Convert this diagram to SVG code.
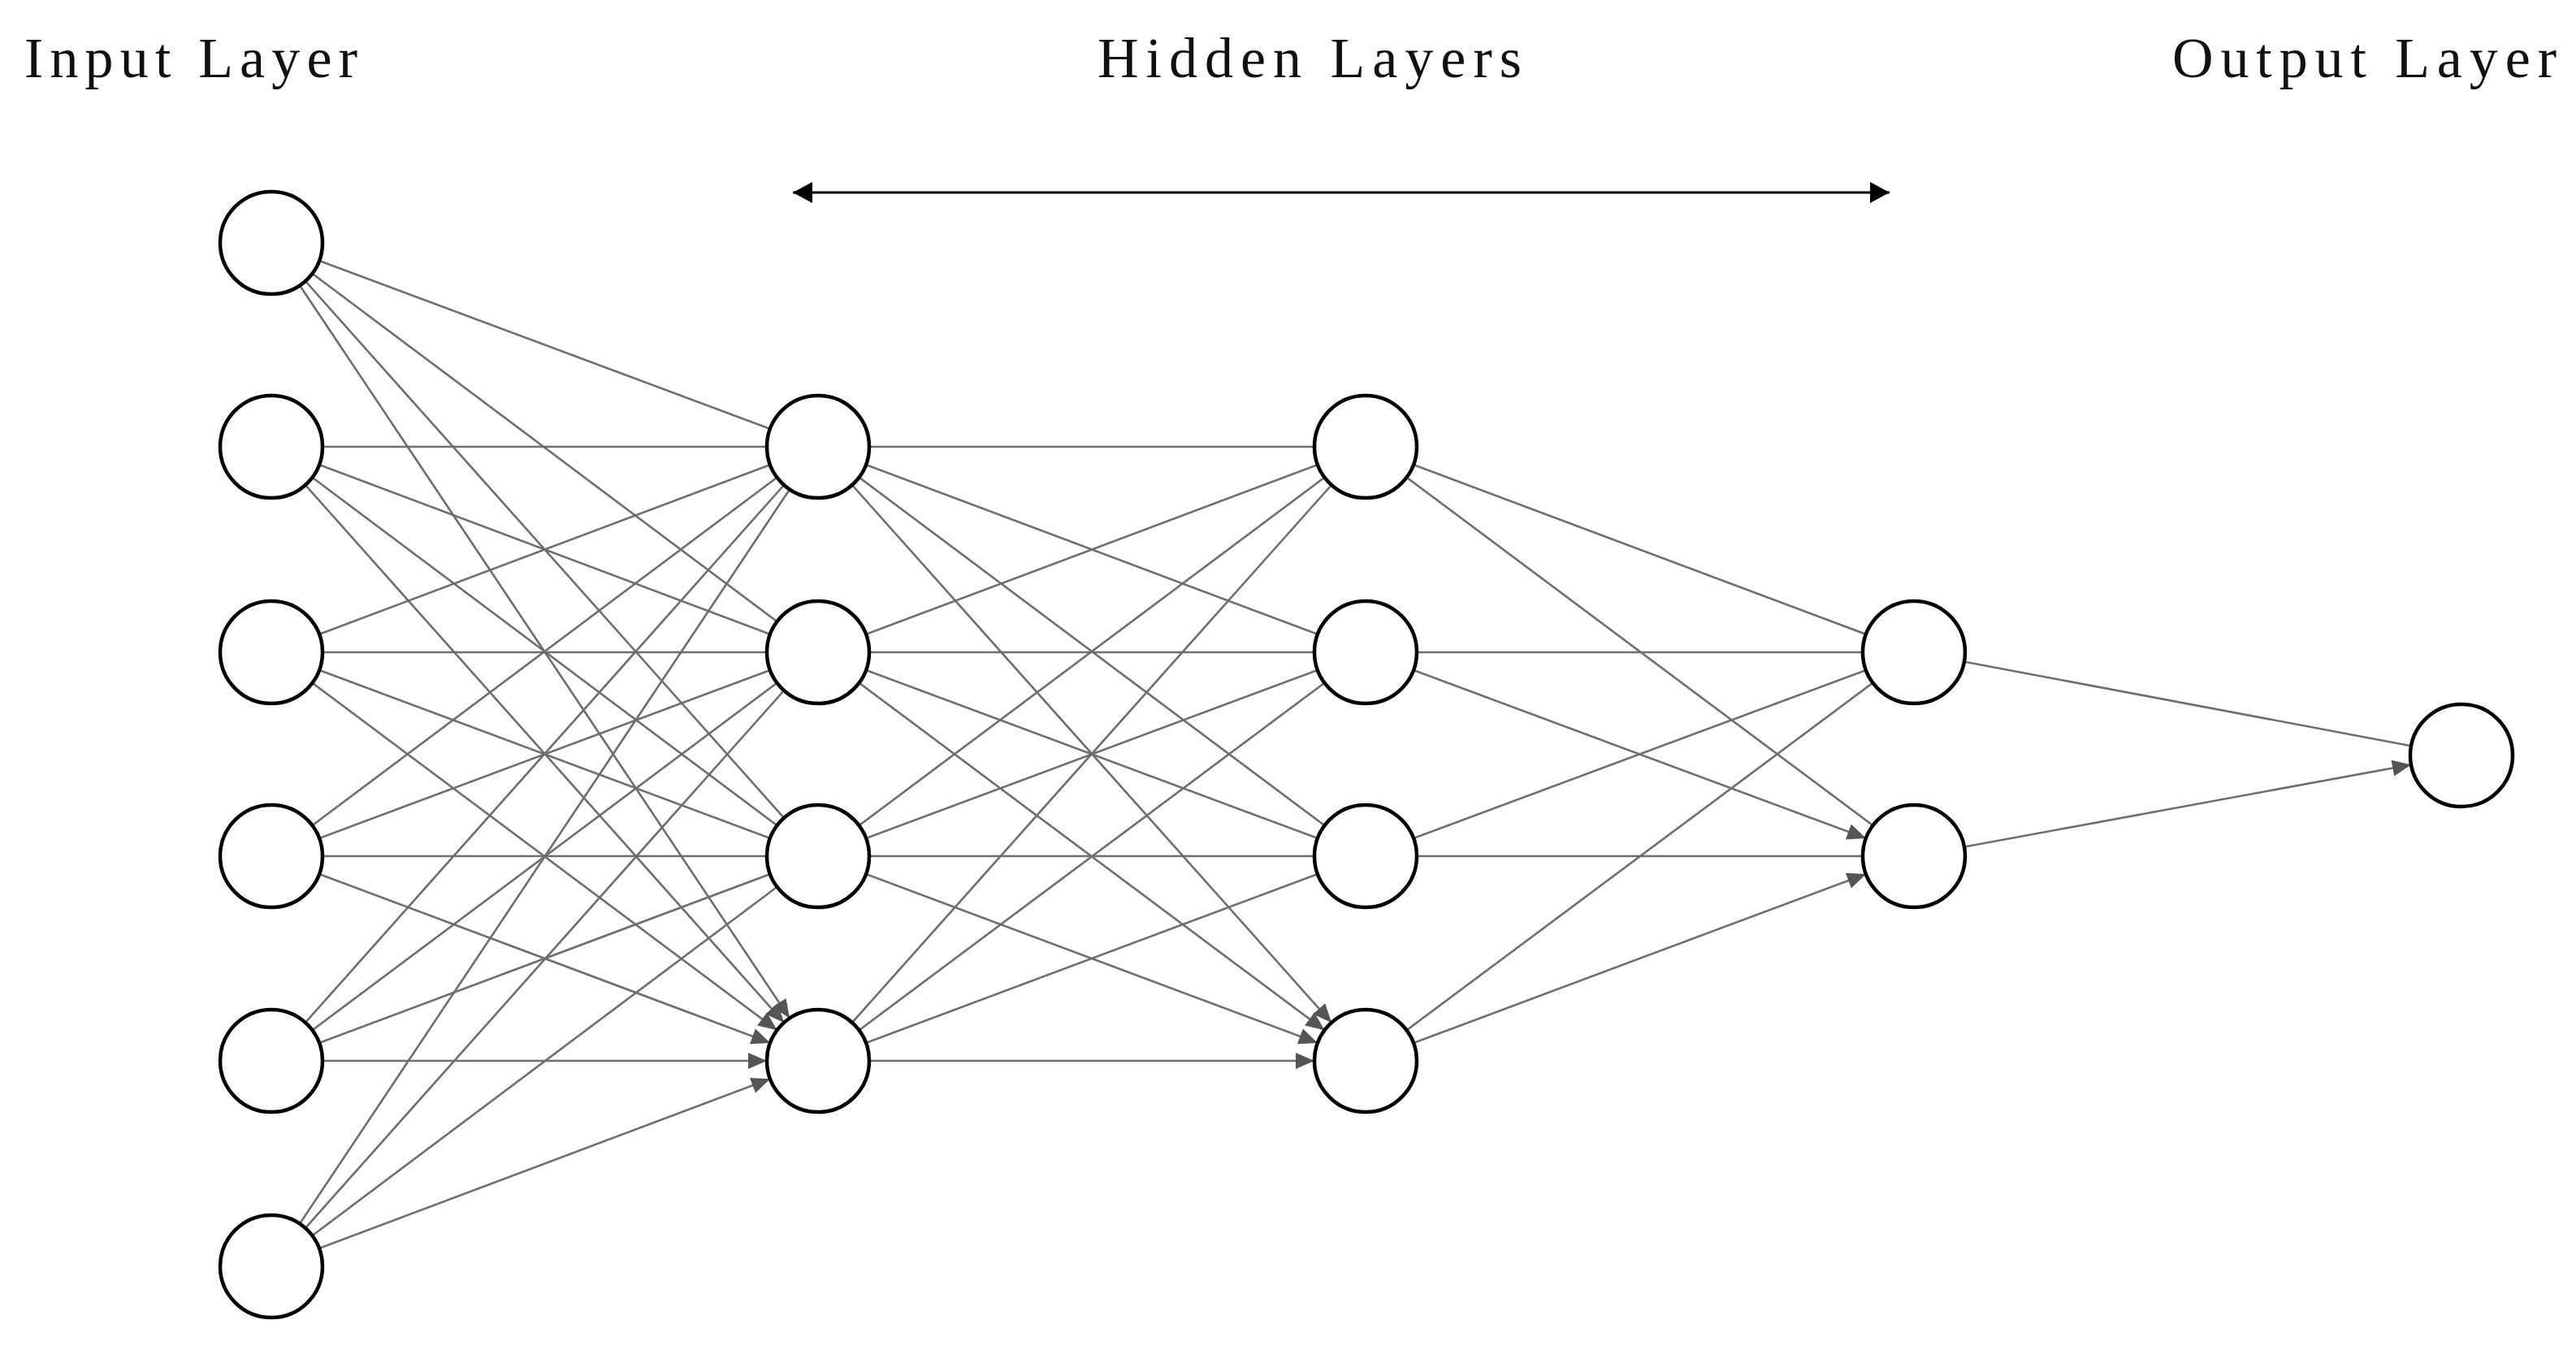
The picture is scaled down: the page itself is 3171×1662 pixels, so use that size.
<svg xmlns="http://www.w3.org/2000/svg" width="3171" height="1662" viewBox="0 0 3171 1662">
<style>
.e{stroke:#6e6e6e;stroke-width:2.6;fill:none;marker-end:url(#ah)}
.n{fill:#fff;stroke:#000;stroke-width:4.5}
.t{font-family:"Liberation Serif",serif;font-size:70px;fill:#111}
</style>
<defs>
<marker id="ah" markerUnits="userSpaceOnUse" orient="auto" refX="0" refY="0" markerWidth="1" markerHeight="1" overflow="visible"><path d="M-63 0 L-86 -10 L-86 10 z" fill="#555"/></marker>
<marker id="bk" markerUnits="userSpaceOnUse" orient="auto-start-reverse" refX="0" refY="0" markerWidth="1" markerHeight="1" overflow="visible"><path d="M0 0 L-24 -13 L-24 13 z" fill="#000"/></marker>
</defs>
<text class="t" x="30" y="95" textLength="410">Input Layer</text>
<text class="t" x="1351" y="95" textLength="522">Hidden Layers</text>
<text class="t" x="2674" y="95" textLength="473">Output Layer</text>
<line x1="976" y1="237" x2="2326" y2="237" stroke="#000" stroke-width="3" marker-start="url(#bk)" marker-end="url(#bk)"/>
<g id="connectors">
<path class="e" d="M334 299L1007 550M334 299L1007 803M334 299L1007 1054M334 299L1007 1306"/>
<path class="e" d="M334 550L1007 550M334 550L1007 803M334 550L1007 1054M334 550L1007 1306"/>
<path class="e" d="M334 803L1007 550M334 803L1007 803M334 803L1007 1054M334 803L1007 1306"/>
<path class="e" d="M334 1054L1007 550M334 1054L1007 803M334 1054L1007 1054M334 1054L1007 1306"/>
<path class="e" d="M334 1306L1007 550M334 1306L1007 803M334 1306L1007 1054M334 1306L1007 1306"/>
<path class="e" d="M334 1559L1007 550M334 1559L1007 803M334 1559L1007 1054M334 1559L1007 1306"/>
<path class="e" d="M1007 550L1681 550M1007 550L1681 803M1007 550L1681 1054M1007 550L1681 1306"/>
<path class="e" d="M1007 803L1681 550M1007 803L1681 803M1007 803L1681 1054M1007 803L1681 1306"/>
<path class="e" d="M1007 1054L1681 550M1007 1054L1681 803M1007 1054L1681 1054M1007 1054L1681 1306"/>
<path class="e" d="M1007 1306L1681 550M1007 1306L1681 803M1007 1306L1681 1054M1007 1306L1681 1306"/>
<path class="e" d="M1681 550L2356 803M1681 550L2356 1054M1681 803L2356 803M1681 803L2356 1054"/>
<path class="e" d="M1681 1054L2356 803M1681 1054L2356 1054M1681 1306L2356 803M1681 1306L2356 1054"/>
<path class="e" d="M2356 803L3030 930M2356 1054L3030 930"/>
</g>
<g id="input">
<circle id="i1" class="n" cx="334" cy="299" r="63"/><circle id="i2" class="n" cx="334" cy="550" r="63"/><circle id="i3" class="n" cx="334" cy="803" r="63"/><circle id="i4" class="n" cx="334" cy="1054" r="63"/><circle id="i5" class="n" cx="334" cy="1306" r="63"/><circle id="i6" class="n" cx="334" cy="1559" r="63"/>
</g>
<g id="hidden1">
<circle id="a1" class="n" cx="1007" cy="550" r="63"/><circle id="a2" class="n" cx="1007" cy="803" r="63"/><circle id="a3" class="n" cx="1007" cy="1054" r="63"/><circle id="a4" class="n" cx="1007" cy="1306" r="63"/>
</g>
<g id="hidden2">
<circle id="b1" class="n" cx="1681" cy="550" r="63"/><circle id="b2" class="n" cx="1681" cy="803" r="63"/><circle id="b3" class="n" cx="1681" cy="1054" r="63"/><circle id="b4" class="n" cx="1681" cy="1306" r="63"/>
</g>
<g id="hidden3">
<circle id="c1" class="n" cx="2356" cy="803" r="63"/><circle id="c2" class="n" cx="2356" cy="1054" r="63"/>
</g>
<g id="output"><circle id="o1" class="n" cx="3030" cy="930" r="63"/></g>
</svg>
